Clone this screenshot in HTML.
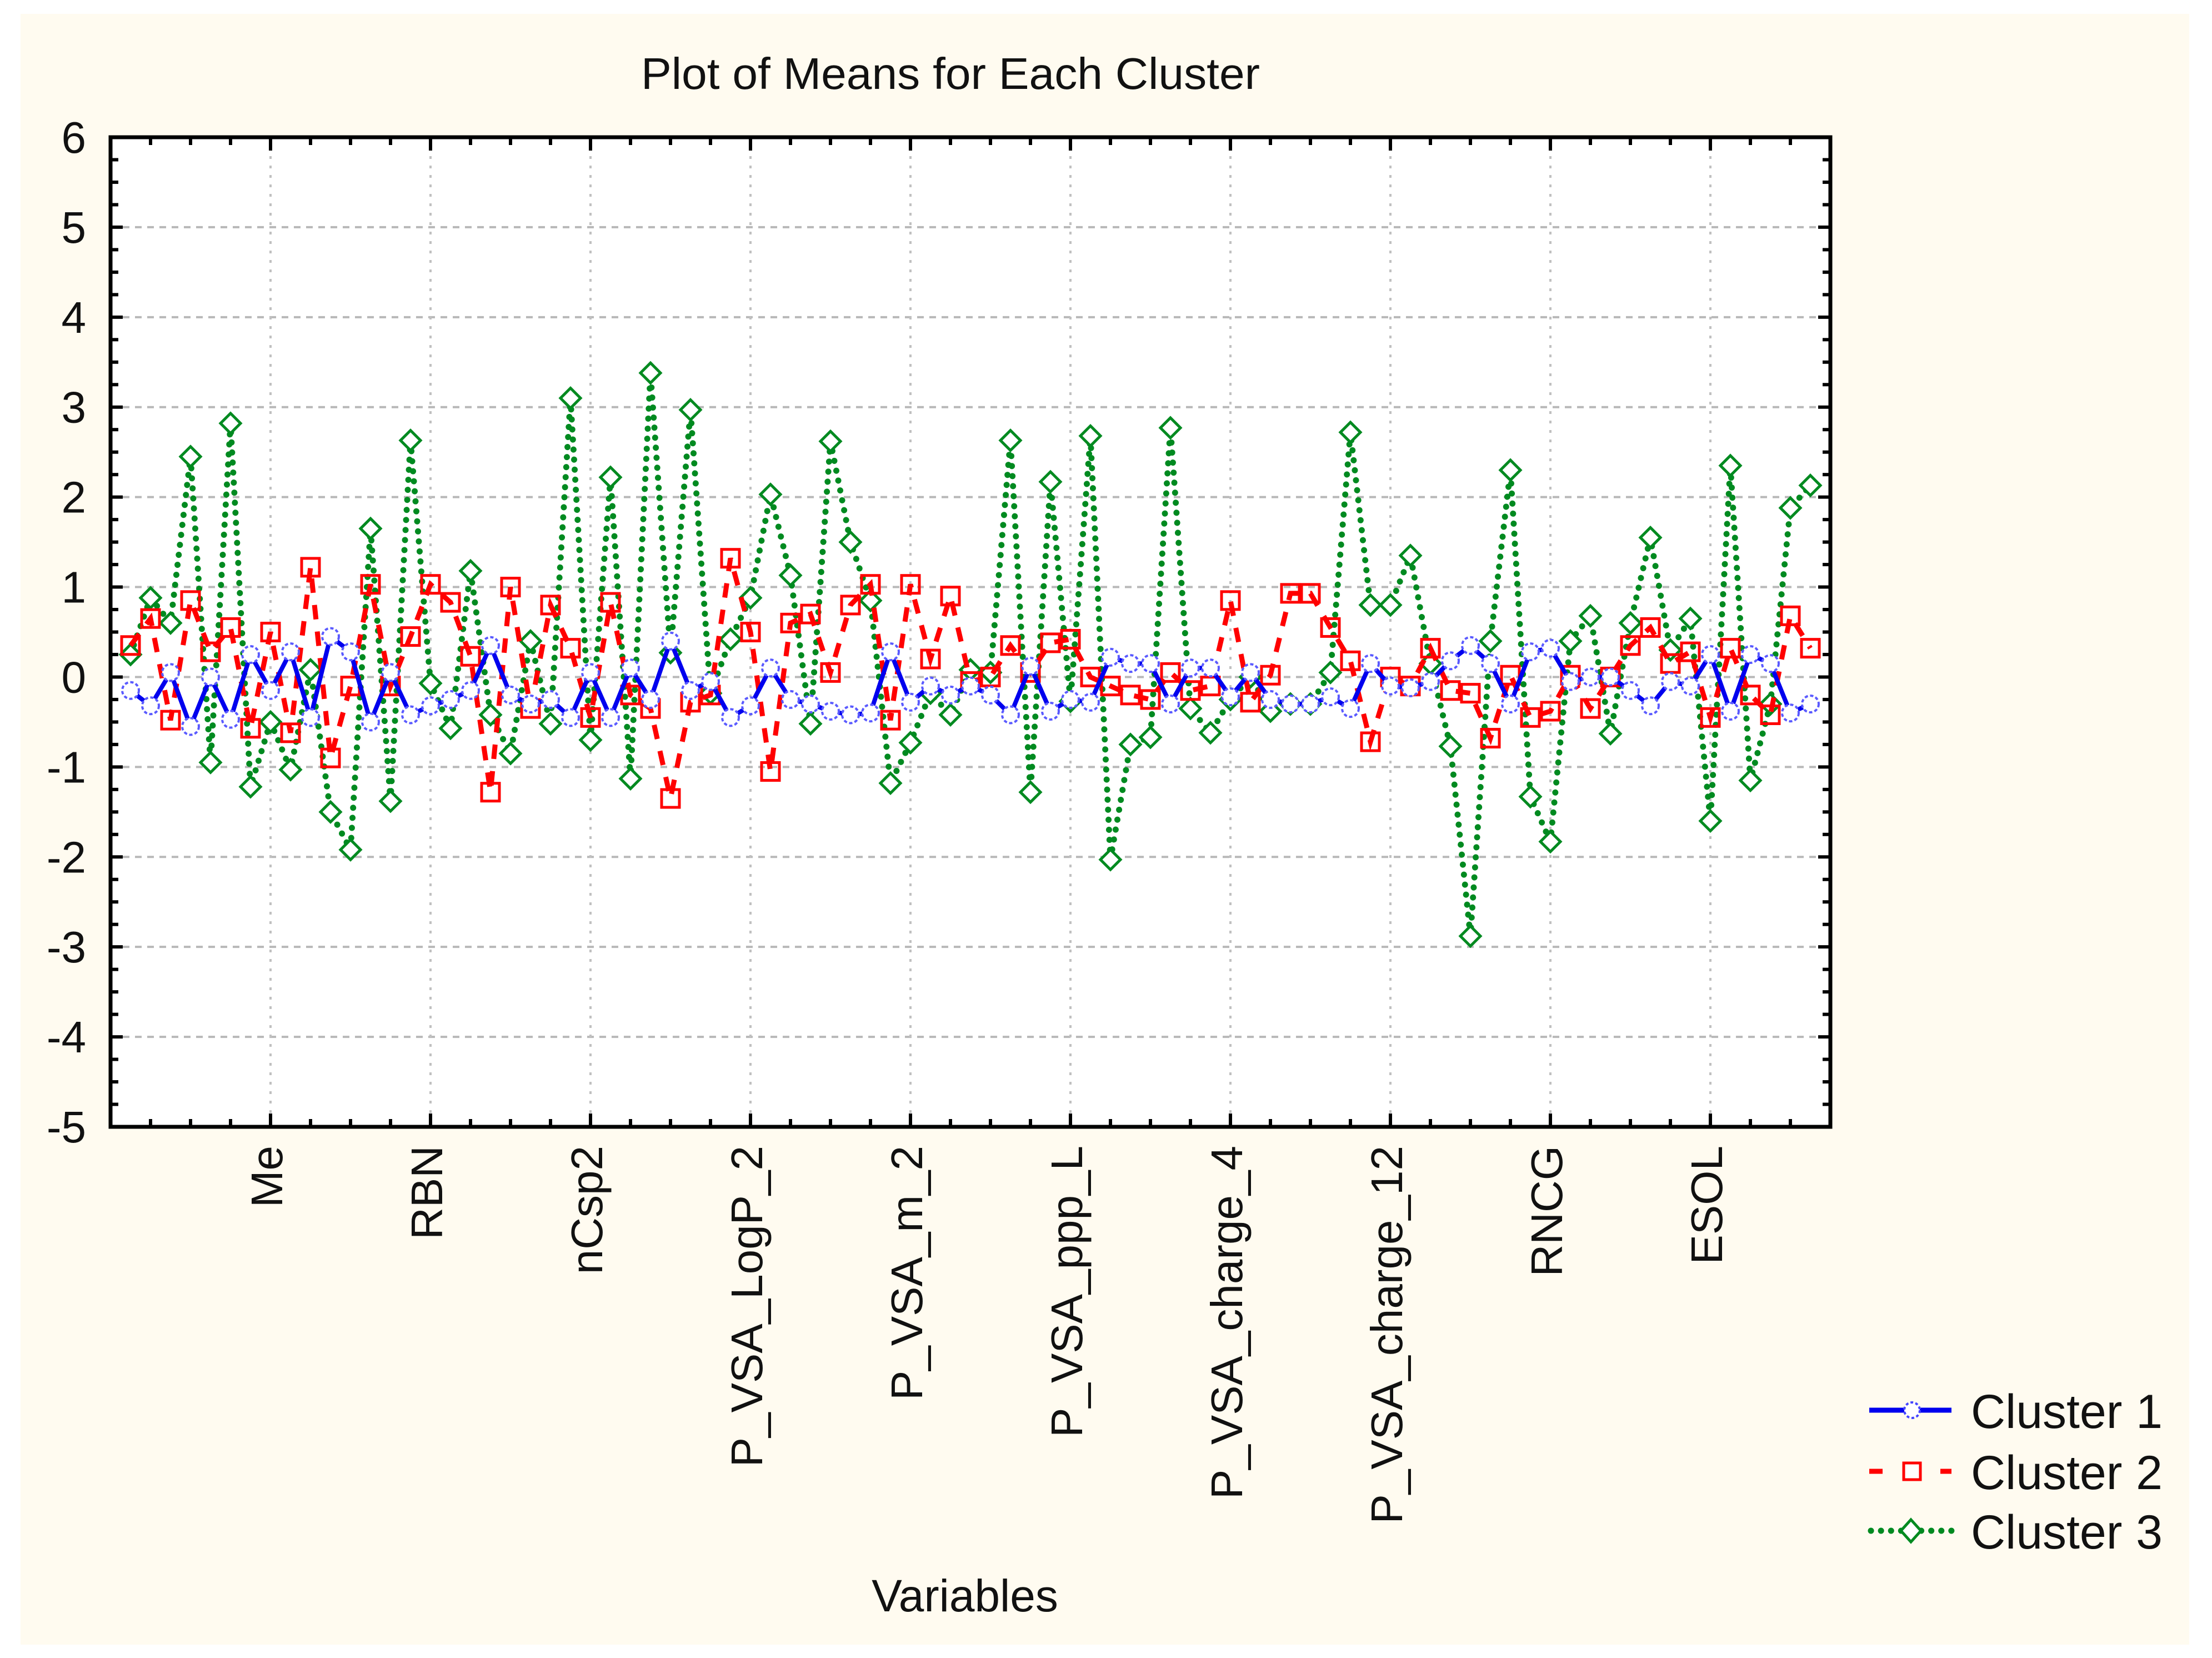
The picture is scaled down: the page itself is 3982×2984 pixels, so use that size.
<!DOCTYPE html>
<html><head><meta charset="utf-8"><style>
html,body{margin:0;padding:0;background:#fff;}
svg{display:block;font-family:"Liberation Sans",sans-serif;}
</style></head><body>
<svg id="chart" width="3982" height="2984" viewBox="0 0 3982 2984" xmlns="http://www.w3.org/2000/svg">
<rect x="37" y="25" width="3904" height="2935" fill="#fffbf0"/>
<rect x="199" y="247" width="3096" height="1781" fill="#ffffff"/>
<g id="grid"></g>
<g id="series"></g>
<rect x="199" y="247" width="3096" height="1781" fill="none" stroke="#000" stroke-width="7"/>
<g id="axes"></g>
<text x="1711" y="160" font-size="80" text-anchor="middle" fill="#111" textLength="1114" lengthAdjust="spacingAndGlyphs">Plot of Means for Each Cluster</text>
<text x="1737" y="2900" font-size="82" text-anchor="middle" fill="#111">Variables</text>
<g>
 <g>
  <line x1="3365" y1="2538" x2="3513" y2="2538" stroke="#0000ee" stroke-width="9"/>
  <circle cx="3442" cy="2538" r="14" fill="#fff" stroke="#4444ff" stroke-width="4" stroke-dasharray="5 4"/>
  <text x="3548" y="2570" font-size="86" fill="#111">Cluster</text><text x="3893" y="2570" font-size="86" text-anchor="end" fill="#111">1</text>
 </g>
 <g>
  <line x1="3365" y1="2648" x2="3513" y2="2648" stroke="#ff0000" stroke-width="9" stroke-dasharray="24 40"/>
  <rect x="3427" y="2633" width="30" height="30" fill="#fff" stroke="#ff0000" stroke-width="5"/>
  <text x="3548" y="2680" font-size="86" fill="#111">Cluster</text><text x="3893" y="2680" font-size="86" text-anchor="end" fill="#111">2</text>
 </g>
 <g>
  <line x1="3368" y1="2755" x2="3513" y2="2755" stroke="#008a20" stroke-width="11" stroke-linecap="round" stroke-dasharray="0.1 18"/>
  <polygon points="3440,2735 3458,2755 3440,2775 3422,2755" fill="#fff" stroke="#008a20" stroke-width="5"/>
  <text x="3548" y="2787" font-size="86" fill="#111">Cluster</text><text x="3893" y="2787" font-size="86" text-anchor="end" fill="#111">3</text>
 </g>
</g>
</svg>
<script>
const varLabels = ["Me","RBN","nCsp2","P_VSA_LogP_2","P_VSA_m_2","P_VSA_ppp_L","P_VSA_charge_4","P_VSA_charge_12","RNCG","ESOL"];
const labelIndex = [7,15,23,31,39,47,55,63,71,79];
const yTicks = [6,5,4,3,2,1,0,-1,-2,-3,-4,-5];
const cluster1 = [-0.15,-0.32,0.05,-0.55,0.0,-0.47,0.25,-0.15,0.28,-0.45,0.45,0.28,-0.5,0.05,-0.42,-0.32,-0.25,-0.15,0.35,-0.2,-0.3,-0.25,-0.45,0.05,-0.45,0.1,-0.25,0.4,-0.15,-0.05,-0.45,-0.32,0.1,-0.25,-0.3,-0.38,-0.42,-0.4,0.28,-0.28,-0.1,-0.2,-0.1,-0.2,-0.42,0.12,-0.38,-0.25,-0.28,0.22,0.15,0.15,-0.3,0.1,0.1,-0.22,0.05,-0.25,-0.3,-0.3,-0.22,-0.35,0.15,-0.1,-0.12,-0.05,0.18,0.35,0.15,-0.3,0.28,0.32,-0.05,0.0,0.0,-0.15,-0.32,-0.05,-0.1,0.25,-0.38,0.25,0.15,-0.4,-0.3];
const cluster2 = [0.35,0.65,-0.48,0.85,0.28,0.55,-0.57,0.5,-0.62,1.22,-0.9,-0.1,1.03,-0.1,0.45,1.03,0.83,0.23,-1.28,1.0,-0.35,0.8,0.32,-0.45,0.83,-0.2,-0.35,-1.35,-0.28,-0.2,1.32,0.5,-1.05,0.6,0.7,0.05,0.8,1.03,-0.48,1.03,0.2,0.9,-0.05,0.0,0.35,0.05,0.38,0.42,0.0,-0.1,-0.2,-0.25,0.05,-0.15,-0.1,0.85,-0.28,0.02,0.93,0.93,0.55,0.18,-0.72,0.0,-0.1,0.32,-0.15,-0.18,-0.68,0.02,-0.45,-0.38,0.02,-0.35,0.0,0.35,0.55,0.15,0.28,-0.45,0.32,-0.2,-0.42,0.68,0.32];
const cluster3 = [0.25,0.88,0.6,2.45,-0.95,2.82,-1.22,-0.5,-1.03,0.08,-1.5,-1.92,1.65,-1.38,2.63,-0.07,-0.57,1.18,-0.42,-0.85,0.4,-0.52,3.1,-0.7,2.22,-1.13,3.38,0.27,2.97,-0.18,0.42,0.88,2.03,1.13,-0.52,2.62,1.5,0.85,-1.18,-0.73,-0.18,-0.42,0.08,0.05,2.63,-1.28,2.17,-0.27,2.68,-2.03,-0.75,-0.67,2.77,-0.35,-0.62,-0.25,0.0,-0.38,-0.3,-0.3,0.05,2.72,0.8,0.8,1.35,0.15,-0.77,-2.88,0.4,2.3,-1.33,-1.83,0.4,0.68,-0.63,0.6,1.55,0.3,0.65,-1.6,2.35,-1.15,-0.3,1.88,2.13];

const NS="http://www.w3.org/2000/svg";
const L=199,R=3295,T=247,B=2028,YMIN=-5,YMAX=6;
const N=cluster1.length;
const step=(R-L)/(N+1);
function xPos(i){return L+step*(i+1);}
function yPos(v){return B-(v-YMIN)/(YMAX-YMIN)*(B-T);}
function mk(tag,attrs,parent){const e=document.createElementNS(NS,tag);for(const k in attrs)e.setAttribute(k,attrs[k]);parent.appendChild(e);return e;}

const grid=document.getElementById('grid');
const axes=document.getElementById('axes');
yTicks.forEach(v=>{
  const y=yPos(v);
  if(v!==YMIN&&v!==YMAX){
    const g=mk('line',{x1:L,y1:y,x2:R,y2:y,stroke:'#b8b8b8','stroke-width':4,'stroke-dasharray':'12 10'},grid);
    
    
  }
  const t=mk('text',{x:155,y:y+28,'font-size':80,'text-anchor':'end',fill:'#111'},axes);
  t.textContent=v;
  
  
});
for(let v=YMIN;v<=YMAX+1e-9;v+=0.25){
  const y=yPos(v);const major=Math.abs(v-Math.round(v))<1e-9;
  const len=major?22:14;
  const a=mk('line',{x1:L,y1:y,x2:L+len,y2:y,stroke:'#000','stroke-width':6},axes);
  
  
  const b=mk('line',{x1:R,y1:y,x2:R-len,y2:y,stroke:'#000','stroke-width':6},axes);
  
  
}
for(let i=-1;i<=N;i+=2){
  const x=xPos(i); if(x<=L+2||x>=R-2) continue;
  const major=labelIndex.indexOf(i)>=0;const len=major?24:14;
  const a=mk('line',{x1:x,y1:T,x2:x,y2:T+len,stroke:'#000','stroke-width':6},axes);
  
  
  const b=mk('line',{x1:x,y1:B,x2:x,y2:B-len,stroke:'#000','stroke-width':6},axes);
  
  
}
labelIndex.forEach((idx,k)=>{
  const x=xPos(idx);
  const g=mk('line',{x1:x,y1:T,x2:x,y2:B,stroke:'#c0c0c0','stroke-width':4,'stroke-dasharray':'5 12'},grid);
  
  
  const tx=x+21, ty=2062;
  const t=mk('text',{x:tx,y:ty,'font-size':80,'text-anchor':'end',fill:'#111',transform:`rotate(-90 ${tx} ${ty})`},axes);
  t.textContent=varLabels[k];
  
  
});

const ser=document.getElementById('series');
function drawSeries(vals,name,color,lineAttrs,marker){
  const g=mk('g',{},ser);
  
  
  const pts=vals.map((v,i)=>xPos(i).toFixed(1)+','+yPos(v).toFixed(1)).join(' ');
  const pl=mk('polyline',Object.assign({points:pts,fill:'none',stroke:color},lineAttrs),g);
  
  
  vals.forEach((v,i)=>{
    const x=xPos(i),y=yPos(v);let m;
    if(marker==='circle') m=mk('circle',{cx:x,cy:y,r:15,fill:'#fff',stroke:'#5a5aff','stroke-width':4,'stroke-dasharray':'6 4'},g);
    else if(marker==='square') m=mk('rect',{x:x-16,y:y-16,width:32,height:32,fill:'none',stroke:'#ff0000','stroke-width':5},g);
    else m=mk('polygon',{points:`${x},${y-18} ${x+18},${y} ${x},${y+18} ${x-18},${y}`,fill:'#fff',stroke:'#008a20','stroke-width':5},g);
    
    
  });
}
drawSeries(cluster3,'cluster-3','#008a20',{'stroke-width':11,'stroke-linecap':'round','stroke-dasharray':'0.1 18'},'diamond');
drawSeries(cluster2,'cluster-2','#ff0000',{'stroke-width':9,'stroke-dasharray':'26 22'},'square');
drawSeries(cluster1,'cluster-1','#0000ee',{'stroke-width':8},'circle');
</script>
</body></html>
